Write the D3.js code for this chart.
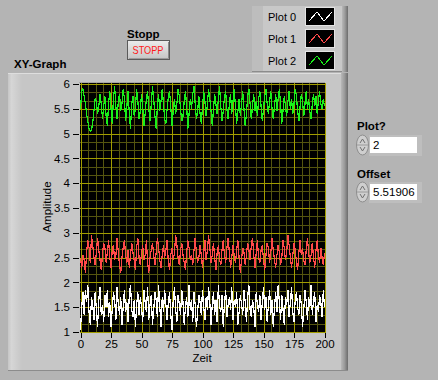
<!DOCTYPE html>
<html>
<head>
<meta charset="utf-8">
<script src="https://cdn.jsdelivr.net/npm/d3@7/dist/d3.min.js"></script>
<style>
html,body{margin:0;padding:0;background:#b4b4b4;}
svg{display:block;}
text{font-family:"Liberation Sans",Arial,sans-serif;}
</style>
</head>
<body>
<svg id="c" width="438" height="380"></svg>
<script>
// ---- data ----
const plotNames = ["Plot 0", "Plot 1", "Plot 2"];
const plotColors = ["#ffffff", "#ff4a4a", "#19f019"];
const xTicks = [0, 25, 50, 75, 100, 125, 150, 175, 200];
const yTicks = [1, 1.5, 2, 2.5, 3, 3.5, 4, 4.5, 5, 5.5, 6];
const plot0 = [
1.05,1.50,1.80,1.35,1.85,1.60,1.95,1.40,1.15,1.70,1.55,1.25,1.80,1.45,1.10,1.65,1.90,1.35,1.55,1.20,1.75,1.50,1.85,1.30,1.60,1.10,1.45,1.80,1.65,1.25,1.90,1.55,1.35,1.70,1.15,1.50,1.85,1.40,1.60,1.20,1.75,1.95,1.45,1.30,1.65,1.10,1.55,1.80,1.35,1.70,
1.50,1.20,1.85,1.60,1.40,1.90,1.25,1.55,1.75,1.15,1.45,1.80,1.65,1.30,1.95,1.50,1.10,1.70,1.40,1.85,1.55,1.25,1.60,1.80,1.35,1.05,1.65,1.90,1.45,1.20,1.75,1.55,1.35,1.85,1.60,1.15,1.50,1.70,1.30,1.95,1.45,1.65,1.20,1.80,1.55,1.10,1.40,1.75,1.60,1.35,
1.85,1.50,1.25,1.70,1.45,1.90,1.60,1.15,1.55,1.80,1.35,1.65,1.20,1.95,1.50,1.40,1.75,1.10,1.60,1.85,1.30,1.55,1.70,1.45,1.90,1.25,1.65,1.50,1.80,1.15,1.40,1.75,1.55,1.35,1.85,1.60,1.20,1.70,1.95,1.45,1.30,1.65,1.50,1.10,1.80,1.55,1.40,1.75,1.25,1.60,
1.90,1.45,1.70,1.20,1.55,1.85,1.35,1.65,1.10,1.50,1.80,1.40,1.95,1.60,1.25,1.75,1.45,1.15,1.70,1.55,1.85,1.30,1.60,1.90,1.40,1.20,1.65,1.80,1.50,1.35,1.75,1.55,1.10,1.45,1.85,1.60,1.25,1.70,1.50,1.95,1.35,1.65,1.80,1.20,1.55,1.40,1.75,1.60,1.30,1.85,1.50];
const plot1 = [
2.50,2.30,2.55,2.45,2.20,2.60,2.85,2.70,2.40,2.95,2.75,2.50,2.35,2.60,2.90,2.65,2.45,2.25,2.55,2.80,2.70,2.40,2.60,2.85,2.50,2.30,2.65,2.75,2.45,2.55,2.90,2.60,2.35,2.20,2.50,2.70,2.85,2.55,2.40,2.65,2.30,2.55,2.80,2.60,2.45,2.25,2.70,2.90,2.50,2.35,
2.60,2.75,2.45,2.55,2.85,2.40,2.20,2.50,2.65,2.80,2.55,2.35,2.60,2.90,2.70,2.45,2.30,2.55,2.75,2.50,2.65,2.85,2.40,2.25,2.55,2.70,2.45,2.60,2.95,2.75,2.50,2.35,2.65,2.80,2.55,2.40,2.25,2.60,2.85,2.70,2.45,2.55,2.35,2.65,2.90,2.60,2.40,2.50,2.75,2.55,
2.30,2.60,2.85,2.45,2.65,2.95,2.70,2.40,2.55,2.80,2.50,2.25,2.60,2.75,2.45,2.35,2.65,2.85,2.55,2.40,2.70,2.90,2.60,2.30,2.50,2.75,2.55,2.40,2.65,2.85,2.50,2.20,2.45,2.70,2.60,2.35,2.55,2.80,2.65,2.45,2.75,2.90,2.55,2.30,2.60,2.85,2.50,2.40,2.65,2.75,
2.45,2.25,2.55,2.80,2.70,2.40,2.60,2.90,2.65,2.45,2.30,2.55,2.75,2.60,2.35,2.50,2.85,2.70,2.45,2.60,2.95,2.75,2.50,2.30,2.55,2.80,2.65,2.40,2.25,2.60,2.85,2.55,2.70,2.45,2.35,2.65,2.90,2.60,2.40,2.55,2.80,2.50,2.30,2.65,2.85,2.55,2.40,2.70,2.50,2.35,2.60];
const plot2 = [
5.50,5.85,5.90,5.75,5.60,5.40,5.25,5.10,5.05,5.08,5.20,5.45,5.70,5.65,5.40,5.55,5.80,5.60,5.30,5.55,5.75,5.35,5.15,5.60,5.85,5.50,5.20,5.70,5.95,5.55,5.30,5.65,5.80,5.45,5.60,5.90,5.70,5.25,5.55,5.85,5.40,5.10,5.60,5.75,5.35,5.50,5.90,5.65,5.30,5.45,
5.80,5.55,5.15,5.40,5.70,5.85,5.50,5.25,5.60,5.95,5.70,5.35,5.10,5.55,5.80,5.45,5.65,5.90,5.60,5.30,5.20,5.50,5.75,5.85,5.55,5.15,5.45,5.70,5.40,5.60,5.90,5.75,5.50,5.25,5.35,5.65,5.85,5.55,5.10,5.40,5.70,5.50,5.80,5.95,5.60,5.30,5.45,5.75,5.40,5.20,
5.55,5.85,5.65,5.35,5.60,5.90,5.70,5.45,5.15,5.50,5.80,5.60,5.40,5.70,5.95,5.55,5.25,5.45,5.75,5.85,5.50,5.30,5.60,5.80,5.40,5.65,5.90,5.55,5.20,5.45,5.70,5.35,5.60,5.85,5.50,5.15,5.40,5.75,5.90,5.60,5.30,5.55,5.80,5.45,5.65,5.35,5.70,5.85,5.55,5.25,
5.50,5.75,5.90,5.60,5.40,5.65,5.85,5.50,5.30,5.55,5.80,5.45,5.70,5.90,5.60,5.20,5.45,5.75,5.55,5.35,5.65,5.85,5.50,5.70,5.40,5.60,5.90,5.75,5.45,5.25,5.55,5.80,5.65,5.35,5.60,5.85,5.50,5.70,5.45,5.30,5.60,5.80,5.55,5.75,5.40,5.65,5.85,5.60,5.50,5.70,5.55];
const series = [plot0, plot1, plot2];
const plotIndex = "2";
const offsetValue = "5.51906";

// ---- drawing ----
const svg = d3.select("#c");
const defs = svg.append("defs");
function grad(id, stops, vertical) {
  const g = defs.append("linearGradient").attr("id", id)
    .attr("x1", 0).attr("y1", 0).attr("x2", vertical ? 0 : 1).attr("y2", vertical ? 1 : 0);
  stops.forEach(s => g.append("stop").attr("offset", s[0]).attr("stop-color", s[1]));
}
grad("leftBand", [[0, "#c6c6c6"], [0.25, "#d6d6d6"], [1, "#c6c6c6"]]);
grad("rightBand", [[0, "#b8b8b8"], [0.5, "#9a9a9a"], [1, "#6c6c6c"]]);
grad("btn", [[0, "#ececec"], [1, "#c4c4c4"]], true);

// graph frame
const F = {x: 8, y: 73, w: 340, h: 298};
svg.append("rect").attr("x", F.x).attr("y", F.y).attr("width", F.w).attr("height", F.h).attr("fill", "#c6c6c6");
svg.append("rect").attr("x", F.x).attr("y", F.y).attr("width", 14).attr("height", F.h).attr("fill", "url(#leftBand)");
svg.append("rect").attr("x", F.x + F.w - 7).attr("y", F.y).attr("width", 7).attr("height", F.h).attr("fill", "url(#rightBand)");
svg.append("line").attr("x1", F.x).attr("x2", F.x + F.w - 7).attr("y1", F.y + 0.5).attr("y2", F.y + 0.5).attr("stroke", "#dedede");
svg.append("line").attr("x1", F.x).attr("x2", F.x + F.w).attr("y1", F.y + F.h - 0.5).attr("y2", F.y + F.h - 0.5).attr("stroke", "#8c8c8c");

// legend
const L = {x: 252, y: 6, w: 96, h: 66};
svg.append("rect").attr("x", L.x).attr("y", L.y).attr("width", L.w).attr("height", L.h).attr("fill", "#c8c8c8");
svg.append("rect").attr("x", L.x).attr("y", L.y).attr("width", 11).attr("height", L.h).attr("fill", "#bdbdbd");
svg.append("rect").attr("x", L.x + L.w - 6).attr("y", L.y).attr("width", 6).attr("height", L.h).attr("fill", "url(#rightBand)");
svg.append("line").attr("x1", L.x).attr("x2", L.x + L.w - 6).attr("y1", L.y + L.h - 0.5).attr("y2", L.y + L.h - 0.5).attr("stroke", "#8c8c8c");
const sw = d3.line();
plotNames.forEach((n, i) => {
  const ry = 8 + i * 22;
  svg.append("text").attr("x", 268).attr("y", ry + 13).attr("font-size", 11).attr("fill", "#000").text(n);
  svg.append("rect").attr("x", 305.5).attr("y", ry - 0.5).attr("width", 29).attr("height", 18).attr("fill", "none").attr("stroke", "#e4e4e4");
  svg.append("rect").attr("x", 306).attr("y", ry).attr("width", 28).attr("height", 17).attr("fill", "#000");
  svg.append("path").attr("d", sw([[309, ry + 13], [317, ry + 4], [324, ry + 13], [332, ry + 4]]))
    .attr("fill", "none").attr("stroke", plotColors[i]).attr("stroke-width", 1).attr("shape-rendering", "crispEdges");
});

// labels
svg.append("text").attr("x", 14).attr("y", 68).attr("font-size", 11.5).attr("font-weight", "bold").text("XY-Graph");
svg.append("text").attr("x", 127).attr("y", 38).attr("font-size", 11.5).attr("font-weight", "bold").text("Stopp");

// stop button
svg.append("rect").attr("x", 127.5).attr("y", 40.5).attr("width", 42).attr("height", 19).attr("fill", "url(#btn)").attr("stroke", "#5a5a5a");
svg.append("line").attr("x1", 168.5).attr("x2", 168.5).attr("y1", 42).attr("y2", 59).attr("stroke", "#8a8a8a");
svg.append("line").attr("x1", 129).attr("x2", 169).attr("y1", 58.5).attr("y2", 58.5).attr("stroke", "#9a9a9a");
svg.append("text").attr("x", 148).attr("y", 54).attr("text-anchor", "middle").attr("font-size", 11)
  .attr("fill", "#ff1a1a").attr("textLength", 31).attr("lengthAdjust", "spacingAndGlyphs").text("STOPP");

// numeric controls
function numeric(label, value, ly, fy) {
  svg.append("text").attr("x", 357).attr("y", ly).attr("font-size", 11.5).attr("font-weight", "bold").text(label);
  svg.append("ellipse").attr("cx", 362.5).attr("cy", fy + 9).attr("rx", 6).attr("ry", 10).attr("fill", "#cfcfcf").attr("stroke", "#8e8e8e");
  svg.append("line").attr("x1", 357).attr("x2", 368).attr("y1", fy + 9).attr("y2", fy + 9).attr("stroke", "#9a9a9a");
  svg.append("path").attr("d", `M360,${fy + 7}L362.5,${fy + 3}L365,${fy + 7}`).attr("fill", "none").attr("stroke", "#707070");
  svg.append("path").attr("d", `M360,${fy + 11}L362.5,${fy + 15}L365,${fy + 11}`).attr("fill", "none").attr("stroke", "#707070");
  svg.append("rect").attr("x", 369).attr("y", fy - 1).attr("width", 53).attr("height", 21).attr("fill", "#bebebe");
  svg.append("rect").attr("x", 370).attr("y", fy + 1).attr("width", 47).attr("height", 16).attr("fill", "#fff");
  svg.append("text").attr("x", 373).attr("y", fy + 13).attr("font-size", 11.5).text(value);
}
numeric("Plot?", plotIndex, 130, 136);
numeric("Offset", offsetValue, 178, 183);

// plot area
const P = {x: 80, y: 83, w: 245, h: 250};
const x = d3.scaleLinear().domain([0, 200]).range([80.5, 324.5]);
const y = d3.scaleLinear().domain([1, 6]).range([332, 84]);
svg.append("line").attr("x1", P.x - 1).attr("x2", P.x + P.w).attr("y1", P.y - 0.5).attr("y2", P.y - 0.5).attr("stroke", "#a8a8a8");
svg.append("rect").attr("x", P.x).attr("y", P.y).attr("width", P.w).attr("height", P.h).attr("fill", "#000");

const g = svg.append("g").attr("shape-rendering", "crispEdges");
// minor grid
const xMinor = d3.range(0, 201, 6.25).filter(v => v % 25 !== 0);
const yMinorVals = [];
for (let k = 0; k <= 30; k++) { if (k % 3 !== 0) yMinorVals.push(1 + k / 6); }
g.selectAll(".xm").data(xMinor).join("line")
  .attr("x1", d => Math.round(x(d)) + 0.5).attr("x2", d => Math.round(x(d)) + 0.5)
  .attr("y1", P.y).attr("y2", P.y + P.h).attr("stroke", "#55550f");
g.selectAll(".ym").data(yMinorVals).join("line")
  .attr("y1", d => Math.round(y(d)) + 0.5).attr("y2", d => Math.round(y(d)) + 0.5)
  .attr("x1", P.x).attr("x2", P.x + P.w).attr("stroke", "#55550f");
// major grid
g.selectAll(".xM").data(xTicks).join("line")
  .attr("x1", d => Math.round(x(d)) + 0.5).attr("x2", d => Math.round(x(d)) + 0.5)
  .attr("y1", P.y).attr("y2", P.y + P.h).attr("stroke", "#a29d00");
g.selectAll(".yM").data(yTicks).join("line")
  .attr("y1", d => Math.round(y(d)) + 0.5).attr("y2", d => Math.round(y(d)) + 0.5)
  .attr("x1", P.x).attr("x2", P.x + P.w).attr("stroke", "#a29d00");

// series
const line = d3.line().x(d => x(d[0])).y(d => y(d[1]));
series.forEach((s, i) => {
  svg.append("path").datum(s.map((v, k) => [k, v])).attr("d", line)
    .attr("fill", "none").attr("stroke", plotColors[i]).attr("stroke-width", 1.2)
    .attr("shape-rendering", "crispEdges");
});

// axes
const ax = svg.append("g").attr("transform", `translate(0,${P.y + P.h - 1})`)
  .call(d3.axisBottom(x).tickValues(xTicks).tickSize(6).tickPadding(2).tickFormat(d3.format("")));
const ay = svg.append("g").attr("transform", `translate(79,0)`)
  .call(d3.axisLeft(y).tickValues(yTicks).tickSize(6).tickPadding(3).tickFormat(d3.format("")));
[ax, ay].forEach(a => {
  a.select(".domain").remove();
  a.selectAll("text").attr("font-family", "Liberation Sans, Arial, sans-serif").attr("font-size", 11.5).attr("fill", "#000");
  a.selectAll("line").attr("stroke", "#000").attr("shape-rendering", "crispEdges");
});
ax.selectAll(".tick line").attr("y1", 1);
svg.append("text").attr("x", 202).attr("y", 362).attr("text-anchor", "middle").attr("font-size", 11.5).text("Zeit");
svg.append("text").attr("transform", "translate(51,207) rotate(-90)").attr("text-anchor", "middle").attr("font-size", 11.5).text("Amplitude");
</script>
</body>
</html>
